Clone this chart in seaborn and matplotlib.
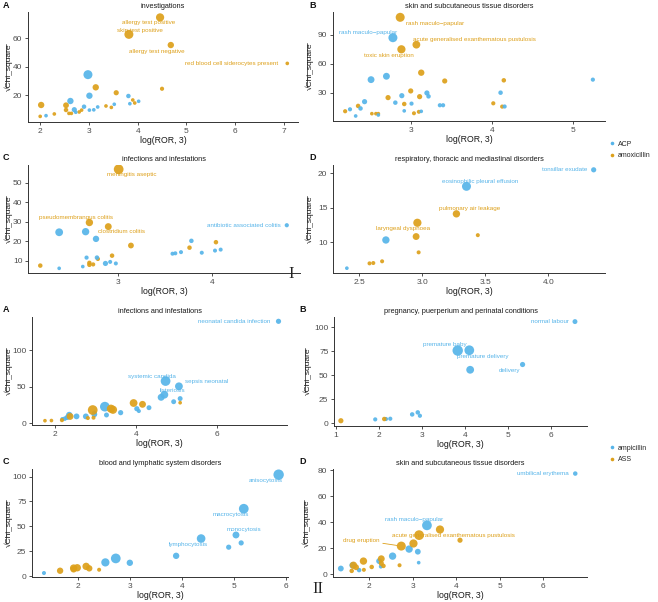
import matplotlib
matplotlib.use("Agg")
import matplotlib.pyplot as plt
from matplotlib.lines import Line2D
import pandas as pd
import seaborn as sns

# ---------------- DATA ----------------
# Figure I  (ACP vs amoxicillin)
IA_title = "investigations"
IA_x = [4.46, 3.82, 4.68, 7.07, 4.50, 3.14, 3.56, 2.02, 2.53, 2.53, 2.59, 2.64, 2.80, 2.85, 3.35, 3.46, 3.90, 3.94, 2.00, 2.29,
        2.98, 3.01, 2.62, 2.12, 2.70, 2.73, 2.90, 3.01, 3.10, 3.18, 3.52, 3.81, 3.84, 4.02]
IA_y = [74.5, 62.6, 55.1, 42.2, 24.4, 25.4, 21.6, 13.0, 12.8, 9.5, 7.1, 7.1, 8.1, 9.4, 12.3, 11.3, 16.5, 14.4, 5.0, 6.7,
        34.3, 19.5, 15.8, 5.5, 9.7, 7.9, 11.8, 9.4, 9.6, 11.6, 13.5, 19.3, 13.9, 15.6]
IA_n = [5, 6, 3, 1, 1.3, 3, 2, 3, 2.5, 1.5, 1, 1, 1, 1, 1, 1, 1, 1, 1, 1,
        6, 3, 3, 1, 2, 1, 1.5, 1, 1, 1, 1, 1.5, 1, 1]
IA_drug = ["amoxicillin"] * 20 + ["ACP"] * 14
IA_labels = {0: "allergy test positive", 1: "skin test positive", 2: "allergy test negative",
             3: "red blood cell siderocytes present"}

IB_title = "skin and subcutaneous tissue disorders"
IB_x = [2.87, 3.07, 2.885, 3.13, 3.42, 4.15, 3.00, 2.72, 3.11, 2.92, 4.02, 4.13, 2.35, 2.19, 2.52, 2.57, 2.60, 3.04, 3.10,
        2.78, 2.51, 2.70, 5.25, 4.11, 3.20, 3.22, 2.89, 2.81, 3.01, 2.43, 2.25, 2.38, 2.32, 2.60, 2.92, 3.13, 3.36, 3.40, 4.16]
IB_y = [108.3, 80.0, 75.2, 51.0, 42.4, 43.1, 32.1, 25.2, 26.2, 18.6, 19.3, 15.9, 16.6, 11.1, 8.6, 8.6, 8.6, 9.0, 10.5,
        87.2, 43.8, 47.3, 43.8, 30.3, 30.0, 26.5, 27.2, 20.0, 19.0, 21.0, 13.1, 14.0, 6.2, 7.2, 11.5, 11.0, 17.3, 17.3, 16.0]
IB_n = [6, 4.5, 5, 3, 2, 1.5, 2, 2, 2, 1.5, 1.3, 1.3, 1.5, 1.3, 1, 1, 1, 1.2, 1.2,
        6, 3.5, 3.5, 1.3, 1.5, 2, 1.5, 2, 1.5, 1.3, 2, 1.3, 1.5, 1, 1, 1, 1, 1.3, 1.3, 1.3]
IB_drug = ["amoxicillin"] * 19 + ["ACP"] * 20
IB_labels = {0: "rash maculo\u2212papular", 1: "acute generalised exanthematous pustulosis",
             2: "toxic skin eruption", 19: "rash maculo\u2212papular"}

IC_title = "infections and infestations"
IC_x = [3.01, 2.70, 2.90, 3.14, 4.04, 3.76, 2.94, 2.18, 2.70, 2.70, 2.74, 2.79,
        2.38, 2.66, 2.77, 2.67, 2.78, 2.92, 2.87, 2.98, 2.63, 2.38, 3.78, 3.58, 3.61, 3.67, 3.89, 4.03, 4.09, 4.79]
IC_y = [57.0, 29.7, 27.6, 17.9, 19.6, 16.8, 12.7, 7.6, 9.0, 8.0, 8.2, 11.0,
        24.7, 25.0, 21.3, 11.7, 11.7, 9.5, 8.7, 8.7, 7.1, 6.2, 20.3, 13.7, 13.9, 14.5, 14.2, 15.3, 15.8, 28.3]
IC_n = [7, 4, 3.5, 2.5, 1.5, 1.5, 1.5, 1.5, 1.5, 1.5, 1.3, 1.3,
        4.5, 4, 3, 1.3, 1.5, 1.2, 2, 1.2, 1, 1, 1.5, 1.2, 1.2, 1.2, 1.2, 1.2, 1.2, 1.3]
IC_drug = ["amoxicillin"] * 12 + ["ACP"] * 18
IC_labels = {0: "meningitis aseptic", 1: "pseudomembrangus colitis", 2: "clostridium colitis",
             29: "antibiotic associated colitis"}

ID_title = "respiratory, thoracic and mediastinal disorders"
ID_x = [3.27, 2.96, 2.95, 3.44, 2.97, 2.58, 2.61, 2.68, 4.36, 3.35, 2.71, 2.40]
ID_y = [14.1, 12.8, 10.8, 11.0, 8.5, 6.9, 6.95, 7.2, 20.5, 18.1, 10.3, 6.2]
ID_n = [4, 5, 3.5, 1.2, 1.2, 1.2, 1.2, 1.2, 2, 6, 4, 1]
ID_drug = ["amoxicillin"] * 8 + ["ACP"] * 4
ID_labels = {0: "pulmonary air leakage", 2: "laryngeal dyspnoea", 8: "tonsillar exudate",
             9: "eosinophilic pleural effusion"}

# Figure II  (ampicillin vs ASS)
IIA_title = "infections and infestations"
IIA_x = [7.52, 4.73, 5.06, 4.70, 4.62, 4.93, 5.09, 3.23, 4.02, 4.07, 4.32, 3.62, 3.27, 2.97, 2.97, 2.76, 2.53, 2.35, 2.30, 2.24, 2.18,
         2.93, 3.38, 3.43, 3.94, 4.16, 2.37, 5.09, 1.75, 1.91, 2.17, 2.81, 2.95]
IIA_y = [139.3, 57.5, 50.3, 38.8, 35.2, 29.2, 33.5, 22.4, 19.6, 16.4, 21.0, 14.2, 11.0, 11.9, 14.0, 9.1, 9.1, 11.0, 7.7, 6.0, 5.5,
         17.8, 19.6, 18.2, 27.4, 25.6, 9.0, 27.8, 3.2, 3.4, 4.0, 6.8, 7.3]
IIA_n = [2, 7, 4.5, 4.5, 3.5, 1.8, 1.8, 7, 2, 1.2, 1.8, 2, 1.8, 2.5, 1.5, 2.5, 2.5, 3, 2, 1.5, 1.2,
         7, 5, 5, 4.5, 3.5, 3.5, 1, 1, 1, 1.3, 1.2, 1.2]
IIA_drug = ["ampicillin"] * 21 + ["ASS"] * 12
IIA_labels = {0: "neonatal candida infection", 1: "systemic candida", 2: "sepsis neonatal", 3: "listeriosis"}

IIB_title = "pregnancy, puerperium and perinatal conditions"
IIB_x = [6.56, 3.83, 4.10, 5.34, 4.12, 1.91, 2.16, 2.26, 2.77, 2.90, 2.95, 1.11, 2.12]
IIB_y = [105.9, 75.7, 76.0, 61.1, 55.6, 3.8, 4.2, 4.5, 9.0, 11.1, 7.6, 2.4, 4.2]
IIB_n = [1.8, 8, 7, 2, 4.5, 1.3, 1.3, 1.3, 1.5, 1.5, 1.3, 2, 1.5]
IIB_drug = ["ampicillin"] * 11 + ["ASS"] * 2
IIB_labels = {0: "normal labour", 1: "premature baby", 2: "premature delivery", 3: "delivery"}

IIC_title = "blood and lymphatic system disorders"
IIC_x = [5.86, 5.19, 5.04, 4.37, 4.90, 5.14, 3.89, 2.73, 2.53, 3.00, 1.35,
         1.66, 1.92, 1.99, 1.92, 2.16, 2.22, 2.41]
IIC_y = [102.0, 67.7, 41.3, 37.7, 29.0, 33.3, 20.3, 17.7, 13.7, 13.3, 3.0,
         5.3, 8.0, 8.3, 6.7, 9.7, 7.7, 6.3]
IIC_n = [8, 7, 3.5, 5.5, 2, 2, 3, 7, 5, 3, 1.2,
         3, 4, 4, 3, 4, 3, 1.2]
IIC_drug = ["ampicillin"] * 11 + ["ASS"] * 7
IIC_labels = {0: "anisocytosis", 1: "macrocytosis", 2: "monocytosis", 3: "lymphocytosis"}

IID_title = "skin and subcutaneous tissue disorders"
IID_x = [6.74, 3.33, 2.92, 3.12, 2.54, 2.23, 3.14, 1.35, 1.62, 1.77, 2.27,
         3.15, 3.63, 4.09, 2.74, 3.02, 1.87, 2.28, 1.64, 1.70, 2.06, 2.28, 2.33, 2.70, 1.88, 1.60]
IID_y = [77.3, 37.6, 19.4, 17.4, 14.0, 10.2, 9.0, 4.5, 7.0, 3.3, 6.0,
         30.1, 34.4, 26.2, 21.7, 23.7, 10.2, 12.0, 7.0, 5.5, 5.7, 8.5, 6.5, 7.0, 3.5, 2.7]
IID_n = [1.5, 7, 4, 2.5, 4, 2.5, 1, 2.5, 3, 1.5, 1.2,
         7, 5, 2, 6, 5, 4, 3.5, 4, 2.5, 1.5, 2, 1.5, 1.2, 1.2, 1.5]
IID_drug = ["ampicillin"] * 11 + ["ASS"] * 15
IID_labels = {0: "umbilical erythema", 1: "rash maculo\u2212papular",
              11: "acute generalised exanthematous pustulosis", 14: "drug eruption"}

# ---------------- STYLE ----------------
sns.set_theme(style="white")
plt.rcParams["font.family"] = ["Liberation Sans", "DejaVu Sans"]

BLUE = "#56B4E9"
ORANGE = "#DDA01A"
pal1 = {"ACP": BLUE, "amoxicillin": ORANGE}
pal2 = {"ampicillin": BLUE, "ASS": ORANGE}
YLAB_SIZE = 6.0

W, H = 658, 602
fig = plt.figure(figsize=(W / 100, H / 100), dpi=100)
all_axes = []


def box(l, r, t, b):
    return [l / W, 1 - b / H, (r - l) / W, (b - t) / H]


def panel(rect, x, y, n, drug, pal, labels, offs, title, xlim, ylim, xt, yt, letter, letter_xy,
          ylab_gap, seg=None):
    ax = fig.add_axes(rect)
    df = pd.DataFrame({"x": x, "y": y, "n": n, "drug": drug})
    sns.scatterplot(data=df, x="x", y="y", hue="drug", size="n", sizes=(7, 7 * 9), size_norm=(1, 9),
                    palette=pal, ax=ax, legend=False, alpha=0.92, linewidth=0)
    ax.set_xlim(*xlim)
    ax.set_ylim(*ylim)
    ax.set_xticks(xt)
    ax.set_yticks(yt)
    for s in ("top", "right"):
        ax.spines[s].set_visible(False)
    for s in ("left", "bottom"):
        ax.spines[s].set_color("#333333")
        ax.spines[s].set_linewidth(0.7)
    ax.tick_params(bottom=True, left=True, length=2.5, width=0.6, color="#333333",
                   labelsize=6, labelcolor="#4D4D4D", pad=1.5)
    ax.set_xlabel("log(ROR, 3)", fontsize=6.3, labelpad=1, color="#1a1a1a")
    ax.set_ylabel("\u221aChi_square", fontsize=YLAB_SIZE, color="#1a1a1a")
    wpx = rect[2] * W
    ax.yaxis.set_label_coords(-ylab_gap / wpx, 0.5)
    ax.set_title(title, fontsize=5.3, pad=3, color="#1a1a1a")
    for i, txt in labels.items():
        dx, dy = offs[i]
        kw = {}
        if seg is not None and i == seg:
            kw["arrowprops"] = dict(arrowstyle="-", color=pal[drug[i]], lw=0.6, shrinkA=0, shrinkB=3)
        ax.annotate(txt, xy=(x[i], y[i]), xytext=(dx, dy), textcoords="offset pixels",
                    ha="center", va="center", fontsize=4.5, color=pal[drug[i]], **kw)
    fig.text(letter_xy[0] / W, 1 - letter_xy[1] / H, letter, fontsize=6.5, fontweight="bold",
             ha="left", va="center", color="#111111")
    all_axes.append(ax)
    return ax


# Figure I
panel(box(28, 298, 12, 122), IA_x, IA_y, IA_n, IA_drug, pal1, IA_labels,
      {0: (-11, -5), 1: (11, 4), 2: (-14, -6), 3: (-56, 0)},
      IA_title, (1.75, 7.29), (1.05, 78.3), [2, 3, 4, 5, 6, 7], [20, 40, 60], "A", (3, 5), 15)
panel(box(333, 605, 12, 121), IB_x, IB_y, IB_n, IB_drug, pal1, IB_labels,
      {0: (35, -6), 1: (58, 5), 2: (-13, -6), 19: (-25, 5)},
      IB_title, (2.04, 5.40), (1.0, 113.8), [3, 4, 5], [30, 60, 90], "B", (309, 5), 19)
panel(box(28, 300, 165, 273), IC_x, IC_y, IC_n, IC_drug, pal1, IC_labels,
      {0: (13, -5), 1: (-13, 5), 2: (13, -5), 29: (-43, 0)},
      IC_title, (2.05, 4.93), (3.8, 59.2), [3, 4], [10, 20, 30, 40, 50], "C", (3, 157), 15)
panel(box(333, 605, 165, 273), ID_x, ID_y, ID_n, ID_drug, pal1, ID_labels,
      {0: (13, 5), 2: (-13, 8), 8: (-29, 0), 9: (14, 5)},
      ID_title, (2.29, 4.45), (5.5, 21.2), [2.5, 3.0, 3.5, 4.0], [10, 15, 20], "D", (309, 157), 19)

# Figure II
panel(box(32, 287, 317, 425), IIA_x, IIA_y, IIA_n, IIA_drug, pal2, IIA_labels,
      {0: (-44, 0), 1: (-14, 5), 2: (28, 5), 3: (8, 4)},
      IIA_title, (1.43, 7.73), (-2.7, 145.2), [2, 4, 6], [0, 50, 100], "A", (3, 309), 19)
panel(box(334, 587, 317, 426), IIB_x, IIB_y, IIB_n, IIB_drug, pal2, IIB_labels,
      {0: (-25, 0), 1: (-13, 6), 2: (13, -6), 3: (-13, -6)},
      IIB_title, (0.95, 6.84), (-3.1, 110.7), [1, 2, 3, 4, 5, 6], [0, 25, 50, 75, 100], "B", (299, 309), 22)
panel(box(32, 288, 469, 577), IIC_x, IIC_y, IIC_n, IIC_drug, pal2, IIC_labels,
      {0: (-13, -6), 1: (-13, -6), 2: (8, 5), 3: (-13, -6)},
      IIC_title, (1.12, 6.04), (-1.0, 107.7), [2, 3, 4, 5, 6], [0, 25, 50, 75, 100], "C", (3, 462), 19)
panel(box(333, 587, 469, 577), IID_x, IID_y, IID_n, IID_drug, pal2, IID_labels,
      {0: (-32, 0), 1: (-13, 6), 11: (34, 0), 14: (-40, 6)},
      IID_title, (1.17, 7.01), (-2.0, 80.8), [2, 3, 4, 5, 6], [0, 20, 40, 60, 80], "D", (299, 462), 22, seg=14)

# Legends
for pal, yc in ((pal1, 150), (pal2, 454)):
    handles = [Line2D([], [], marker="o", ls="", color=c, markersize=2.6, markeredgewidth=0) for c in pal.values()]
    fig.legend(handles, list(pal.keys()), loc="center left", bbox_to_anchor=(608 / W, 1 - yc / H),
               frameon=False, fontsize=5, handletextpad=0.2, labelspacing=0.7, handlelength=1.2,
               borderaxespad=0, borderpad=0)

# Roman numerals
fig.text(291 / W, 1 - 274 / H, "I", fontsize=12, family=["Liberation Serif", "DejaVu Serif"],
         ha="center", va="center", color="#222222")
fig.text(318 / W, 1 - 589 / H, "II", fontsize=12, family=["Liberation Serif", "DejaVu Serif"],
         ha="center", va="center", color="#222222")

# overline of the square-root sign on the y labels
fig.canvas.draw()
renderer = fig.canvas.get_renderer()
probe = fig.text(0, 0, "\u221a", fontsize=YLAB_SIZE)
root_w = probe.get_window_extent(renderer).width
probe.remove()
for ax in all_axes:
    bb = ax.yaxis.label.get_window_extent(renderer)
    xo = bb.x0 + 1.2
    y0 = bb.y0 + root_w * 0.8
    y1 = bb.y1 - 0.5
    fig.add_artist(Line2D([xo / W, xo / W], [y0 / H, y1 / H], transform=fig.transFigure,
                          color="#1a1a1a", lw=0.5))

fig.savefig("out.png", dpi=100)
